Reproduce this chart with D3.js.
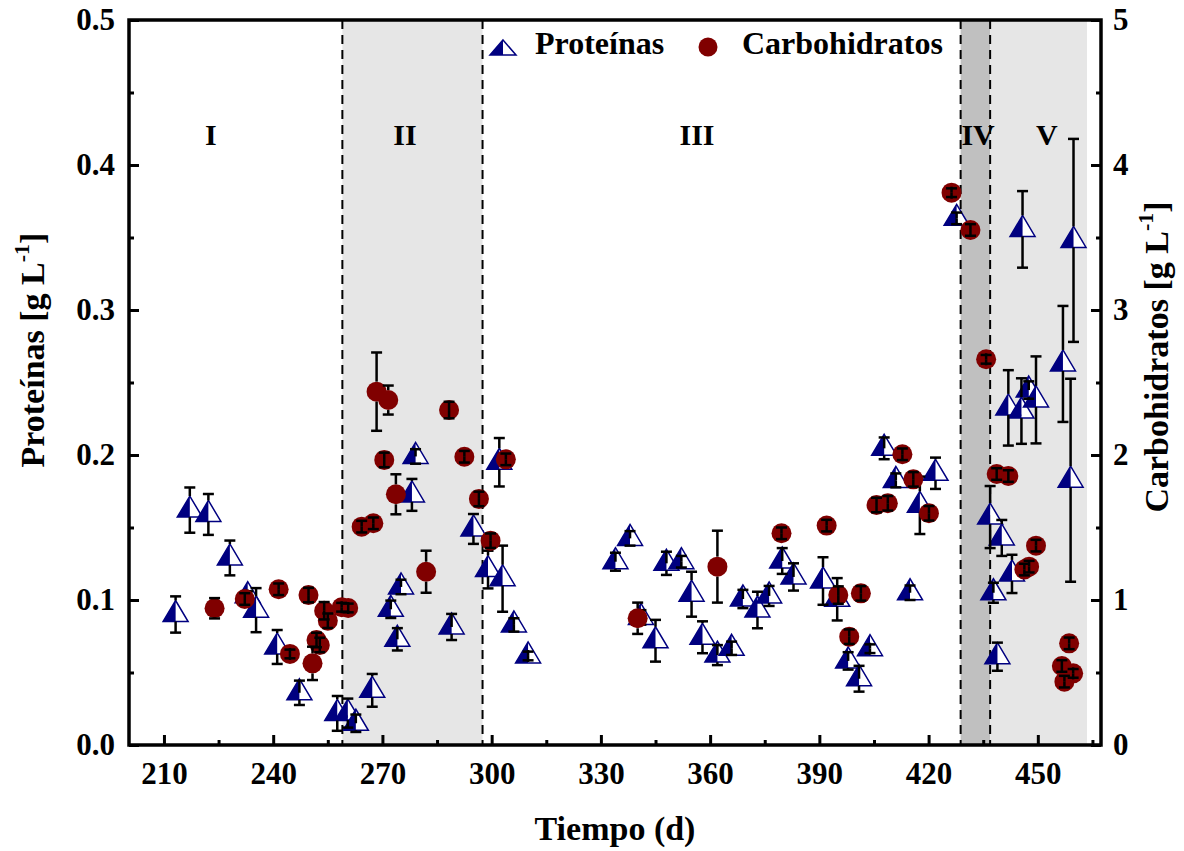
<!DOCTYPE html>
<html>
<head>
<meta charset="utf-8">
<script src="https://cdn.jsdelivr.net/npm/d3@7"></script>
<style>
  body { margin: 0; background: #fff; }
</style>
</head>
<body>
<div id="chart"></div>
<script>
// Proteínas (eje izquierdo, g/L)
var protDia = [213.2, 217.1, 222.2, 228.1, 233.0, 235.3, 241.1, 247.2, 257.6, 260.5, 262.7, 267.2,
  272.3, 274.1, 275.1, 278.1, 279.1, 289.0, 295.0, 299.0, 302.1, 303.0, 306.1, 310.0,
  334.0, 338.0, 341.0, 345.0, 348.0, 352.1, 354.9, 357.9, 362.0, 365.9, 369.0, 373.0, 376.2,
  379.8, 382.9, 391.0, 394.9, 397.9, 400.9, 403.9, 407.8, 411.0, 414.9, 417.6, 421.9,
  427.7, 436.9, 437.8, 438.9, 440.1, 441.9, 442.9, 445.5, 445.8, 447.5, 449.5, 456.9, 459.0, 459.8];
var protVal = [0.090, 0.162, 0.159, 0.129, 0.103, 0.093, 0.0676, 0.036, 0.0218, 0.022, 0.015, 0.0377,
  0.0936, 0.0729, 0.109, 0.1725, 0.199, 0.0814, 0.149, 0.121, 0.195, 0.1147, 0.0828, 0.0614,
  0.1264, 0.1425, 0.088, 0.0719, 0.1253, 0.1264, 0.104, 0.0743, 0.062, 0.0667, 0.1007, 0.0931, 0.1028,
  0.1269, 0.1159, 0.1131, 0.1005, 0.058, 0.0457, 0.0664, 0.2046, 0.1825, 0.105, 0.1653, 0.1874,
  0.3632, 0.1572, 0.105, 0.0609, 0.1428, 0.2325, 0.118, 0.2303, 0.3556, 0.2448, 0.238, 0.2628, 0.1826, 0.348];
var protErr = [0.0125, 0.0156, 0.0141, 0.012, 0.003, 0.0152, 0.0117, 0.0084, 0.012, 0.010, 0.006, 0.0113,
  0.006, 0.0077, 0.005, 0.011, 0.005, 0.009, 0.0103, 0.013, 0.0167, 0.0228, 0.0046, 0.003,
  0.0062, 0.005, 0.005, 0.0144, 0.008, 0.004, 0.0155, 0.011, 0.0069, 0.0046, 0.0063, 0.0126, 0.0069,
  0.0089, 0.0094, 0.0164, 0.0146, 0.006, 0.0089, 0.003, 0.0075, 0.0048, 0.005, 0.0198, 0.0108,
  0.004, 0.0214, 0.0069, 0.0097, 0.0124, 0.026, 0.0132, 0.0226, 0.0264, 0.006, 0.030, 0.040, 0.070, 0.070];

// Carbohidratos (eje derecho, g/L)
var carbDia = [223.9, 232.2, 241.5, 244.6, 249.7, 250.8, 251.9, 252.8, 254.0, 255.0, 258.8, 260.6,
  264.3, 267.5, 268.4, 270.5, 271.6, 273.7, 282.0, 288.3, 292.5, 296.5, 299.7, 303.9,
  340.1, 362.0, 379.6, 392.0, 395.2, 398.2, 401.4, 405.7, 408.8, 412.8, 415.8, 420.1,
  426.3, 431.5, 435.8, 438.7, 441.9, 446.3, 447.6, 449.5, 456.6, 457.3, 458.6, 459.7];
var carbVal = [0.943, 1.007, 1.074, 0.628, 1.034, 0.563, 0.724, 0.69, 0.926, 0.857, 0.95, 0.945,
  1.506, 1.529, 2.437, 1.966, 2.379, 1.729, 1.195, 2.31, 1.988, 1.697, 1.409, 1.970,
  0.874, 1.23, 1.46, 1.513, 1.034, 0.747, 1.046, 1.655, 1.667, 2.005, 1.832, 1.598,
  3.809, 3.552, 2.66, 1.869, 1.855, 1.21, 1.23, 1.375, 0.545, 0.437, 0.701, 0.494];
var carbErr = [0.07, 0.04, 0.04, 0.03, 0.05, 0.115, 0.05, 0.05, 0.06, 0.05, 0.03, 0.03,
  0.04, 0.04, 0.27, 0.05, 0.10, 0.138, 0.145, 0.057, 0.04, 0.05, 0.05, 0.04,
  0.108, 0.248, 0.04, 0.04, 0.06, 0.05, 0.05, 0.05, 0.05, 0.04, 0.05, 0.05,
  0.03, 0.04, 0.03, 0.04, 0.04, 0.04, 0.04, 0.04, 0.04, 0.04, 0.04, 0.03];

// Fases de operación
var fases = ["I", "II", "III", "IV", "V"];
var faseDia = [222.9, 276.2, 356.4, 433.6, 452.5];
var limites = [259, 297.5, 428.8, 436.9, 463.5];

// Marcas de los ejes
var xTicks = [210, 240, 270, 300, 330, 360, 390, 420, 450];
var xMinor = [225, 255, 285, 315, 345, 375, 405, 435, 465];
var protTicks = [0, 0.1, 0.2, 0.3, 0.4, 0.5];
var protMinor = [0.05, 0.15, 0.25, 0.35, 0.45];
var carbTicks = [0, 1, 2, 3, 4, 5];
var carbMinor = [0.5, 1.5, 2.5, 3.5, 4.5];

var azul = "#000080", rojo = "#800000";
var fuente = "Liberation Serif, Times New Roman, Times, DejaVu Serif, Noto Serif, serif";

// triángulo mitad relleno
function triangulo(g, cx, cy, w, up, down) {
  g.append("path")
    .attr("d", "M" + cx + "," + (cy - up) + "L" + (cx + w / 2) + "," + (cy + down) + "L" + cx + "," + (cy + down) + "Z")
    .attr("fill", "#fff");
  g.append("path")
    .attr("d", "M" + cx + "," + (cy - up) + "L" + (cx - w / 2) + "," + (cy + down) + "L" + cx + "," + (cy + down) + "Z")
    .attr("fill", azul);
  g.append("path")
    .attr("d", "M" + cx + "," + (cy - up) + "L" + (cx + w / 2) + "," + (cy + down) + "L" + (cx - w / 2) + "," + (cy + down) + "Z")
    .attr("fill", "none").attr("stroke", azul).attr("stroke-width", 1.5);
}

// barra de error (los brazos empiezan en el borde del marcador)
function barraError(g, cx, cy, yTop, yBot, up, down) {
  var segs = [];
  if (cy - yTop > up) segs.push([yTop, cy - up]); else segs.push([Math.min(yTop, cy - 6), cy]);
  if (yBot - cy > down) segs.push([cy + down, yBot]); else segs.push([cy, Math.max(yBot, cy + 6)]);
  segs.forEach(function(s) {
    g.append("line").attr("x1", cx).attr("x2", cx).attr("y1", s[0]).attr("y2", s[1]);
  });
  [yTop, yBot].forEach(function(yy) {
    g.append("line").attr("x1", cx - 5.5).attr("x2", cx + 5.5).attr("y1", yy).attr("y2", yy);
  });
}

function dibujar() {
  var width = 1184, height = 851;
  var left = 129, right = 1101, top = 20, bottom = 745;

  var svg = d3.select("#chart").append("svg")
    .attr("width", width)
    .attr("height", height)
    .attr("font-family", fuente)
    .attr("font-weight", "bold");

  var x = d3.scaleLinear().domain([200.4, 467.35]).range([left, right]);
  var yP = d3.scaleLinear().domain([0, 0.5]).range([bottom, top]);
  var yC = d3.scaleLinear().domain([0, 5]).range([bottom, top]);

  // zonas sombreadas
  svg.append("rect").attr("x", x(limites[0])).attr("y", top)
    .attr("width", x(limites[1]) - x(limites[0])).attr("height", bottom - top).attr("fill", "#e6e6e6");
  svg.append("rect").attr("x", x(limites[2])).attr("y", top)
    .attr("width", x(limites[3]) - x(limites[2])).attr("height", bottom - top).attr("fill", "#c0c0c0");
  svg.append("rect").attr("x", x(limites[3])).attr("y", top)
    .attr("width", x(limites[4]) - x(limites[3])).attr("height", bottom - top).attr("fill", "#e6e6e6");

  limites.slice(0, 4).forEach(function(d) {
    svg.append("line").attr("x1", x(d)).attr("x2", x(d)).attr("y1", top).attr("y2", bottom)
      .attr("stroke", "#000").attr("stroke-width", 2).attr("stroke-dasharray", "9,6");
  });

  // etiquetas de fase
  svg.selectAll(".fase").data(fases).enter().append("text")
    .attr("x", function(d, i) { return x(faseDia[i]); })
    .attr("y", yP(0.414))
    .attr("text-anchor", "middle")
    .attr("font-family", fuente)
    .style("font-size", "30px")
    .text(function(d) { return d; });

  // ejes
  function estilo(g) {
    g.attr("font-family", fuente).attr("font-weight", "bold").attr("font-size", 31);
    g.select(".domain").remove();
    g.selectAll("line").attr("stroke", "#000").attr("stroke-width", 3);
    g.selectAll("text").attr("fill", "#000");
  }
  svg.append("g").attr("transform", "translate(0," + bottom + ")")
    .call(d3.axisBottom(x).tickValues(xTicks).tickSizeInner(-10).tickSizeOuter(0).tickPadding(17)).call(estilo);
  svg.append("g").attr("transform", "translate(0," + bottom + ")")
    .call(d3.axisBottom(x).tickValues(xMinor).tickSizeInner(-5).tickSizeOuter(0).tickFormat("")).call(estilo);
  svg.append("g").attr("transform", "translate(" + left + ",0)")
    .call(d3.axisLeft(yP).tickValues(protTicks).tickSizeInner(-10).tickSizeOuter(0).tickPadding(14).tickFormat(d3.format(".1f"))).call(estilo);
  svg.append("g").attr("transform", "translate(" + left + ",0)")
    .call(d3.axisLeft(yP).tickValues(protMinor).tickSizeInner(-5).tickSizeOuter(0).tickFormat("")).call(estilo);
  svg.append("g").attr("transform", "translate(" + right + ",0)")
    .call(d3.axisRight(yC).tickValues(carbTicks).tickSizeInner(-10).tickSizeOuter(0).tickPadding(12).tickFormat(d3.format("d"))).call(estilo);
  svg.append("g").attr("transform", "translate(" + right + ",0)")
    .call(d3.axisRight(yC).tickValues(carbMinor).tickSizeInner(-5).tickSizeOuter(0).tickFormat("")).call(estilo);

  // proteínas
  var gP = svg.append("g");
  var gPe = svg.append("g").attr("stroke", "#000").attr("stroke-width", 2.5);
  protDia.forEach(function(d, i) {
    triangulo(gP, x(d), yP(protVal[i]), 25, 14, 7);
  });
  protDia.forEach(function(d, i) {
    barraError(gPe, x(d), yP(protVal[i]), yP(protVal[i] + protErr[i]), yP(protVal[i] - protErr[i]), 14, 7);
  });

  // carbohidratos
  var gC = svg.append("g");
  carbDia.forEach(function(d, i) {
    gC.append("circle").attr("cx", x(d)).attr("cy", yC(carbVal[i])).attr("r", 10).attr("fill", rojo);
  });
  var gCe = svg.append("g").attr("stroke", "#000").attr("stroke-width", 2.5);
  carbDia.forEach(function(d, i) {
    barraError(gCe, x(d), yC(carbVal[i]), yC(carbVal[i] + carbErr[i]), yC(carbVal[i] - carbErr[i]), 10, 10);
  });

  // marco
  svg.append("rect").attr("x", left).attr("y", top).attr("width", right - left).attr("height", bottom - top)
    .attr("fill", "none").attr("stroke", "#000").attr("stroke-width", 3.5);

  // leyenda
  var leg = svg.append("g");
  triangulo(leg, 503, 50, 26, 10, 5);
  leg.append("text").attr("x", 535).attr("y", 54).attr("font-family", fuente).style("font-size", "32px").text("Proteínas");
  leg.append("circle").attr("cx", 708).attr("cy", 47).attr("r", 9.5).attr("fill", rojo);
  leg.append("text").attr("x", 742).attr("y", 54).attr("font-family", fuente).style("font-size", "32px").text("Carbohidratos");

  // títulos
  svg.append("text").attr("x", (left + right) / 2).attr("y", 840).attr("text-anchor", "middle")
    .attr("font-family", fuente).style("font-size", "34px").text("Tiempo (d)");

  var tl = svg.append("text").attr("transform", "translate(44,350) rotate(-90)")
    .attr("text-anchor", "middle").attr("font-family", fuente).style("font-size", "34px");
  tl.append("tspan").text("Proteínas [g L");
  tl.append("tspan").attr("dy", -15).style("font-size", "22px").text("-1");
  tl.append("tspan").attr("dy", 15).text("]");

  var tr = svg.append("text").attr("transform", "translate(1168,357) rotate(-90)")
    .attr("text-anchor", "middle").attr("font-family", fuente).style("font-size", "34px");
  tr.append("tspan").text("Carbohidratos [g L");
  tr.append("tspan").attr("dy", -15).style("font-size", "22px").text("-1");
  tr.append("tspan").attr("dy", 15).text("]");
}

dibujar();
</script>
</body>
</html>
